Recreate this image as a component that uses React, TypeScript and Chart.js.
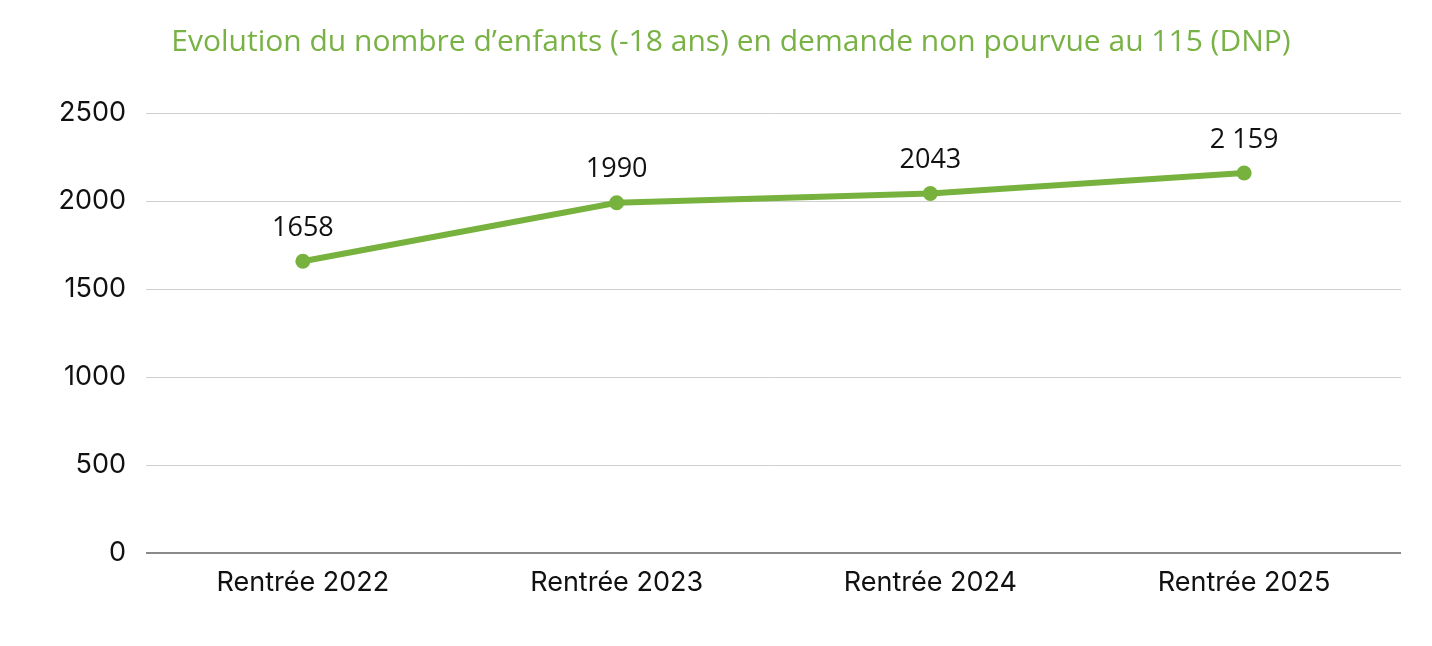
import React, { useEffect, useRef } from "react";
import { Chart, registerables } from "chart.js";

Chart.register(...registerables);

const TITLE = "Evolution du nombre d’enfants (-18 ans) en demande non pourvue au 115 (DNP)";
const categories = ["Rentrée 2022", "Rentrée 2023", "Rentrée 2024", "Rentrée 2025"];
const values = [1658, 1990, 2043, 2159];
const valueLabels = ["1658", "1990", "2043", "2 159"];
const yTicks = [0, 500, 1000, 1500, 2000, 2500];

const GREEN = "#77b23f";

const titlePlugin = {
  id: "customTitle",
  afterDraw(chart: any) {
    const ctx = chart.ctx;
    ctx.save();
    ctx.font = "30px 'Open Sans'";
    ctx.fillStyle = "#78b244";
    ctx.textAlign = "center";
    ctx.textBaseline = "middle";
    ctx.fillText(TITLE, 731, 42);
    ctx.restore();
  },
};

const dataLabelPlugin = {
  id: "dataLabels",
  afterDatasetsDraw(chart: any) {
    const ctx = chart.ctx;
    const meta = chart.getDatasetMeta(0);
    ctx.save();
    ctx.font = "27px 'Open Sans'";
    ctx.fillStyle = "#111111";
    ctx.textAlign = "center";
    ctx.textBaseline = "middle";
    meta.data.forEach((pt: any, i: number) => {
      ctx.fillText(valueLabels[i], pt.x, pt.y - 33);
    });
    ctx.restore();
  },
};

export default function App() {
  const ref = useRef<HTMLCanvasElement | null>(null);
  useEffect(() => {
    document.body.style.margin = "0";
    if (!ref.current) return;
    const chart = new Chart(ref.current, {
      type: "line",
      data: {
        labels: categories,
        datasets: [
          {
            data: values,
            borderColor: GREEN,
            backgroundColor: GREEN,
            borderWidth: 6,
            pointRadius: 7.5,
            pointHoverRadius: 7.5,
            pointBackgroundColor: GREEN,
            pointBorderColor: GREEN,
            pointBorderWidth: 0,
            tension: 0,
          },
        ],
      },
      options: {
        animation: false,
        responsive: false,
        devicePixelRatio: 1,
        layout: { padding: { left: 0, right: 31, top: 113, bottom: 0 } },
        plugins: {
          legend: { display: false },
          tooltip: { enabled: false },
          title: { display: false },
        },
        scales: {
          x: {
            offset: true,
            grid: { display: false, drawTicks: false },
            border: { display: false },
            ticks: {
              color: "#111111",
              font: { family: "Inter", size: 27 },
              padding: 14,
            },
            afterFit(scale: any) {
              scale.height = 93;
            },
          },
          y: {
            min: 0,
            max: 2500,
            afterBuildTicks(scale: any) {
              scale.ticks = yTicks.map((v) => ({ value: v }));
            },
            grid: {
              drawTicks: false,
              color: (c: any) => (c.tick && c.tick.value === 0 ? "#8a8a8a" : "#cfcfcf"),
              lineWidth: (c: any) => (c.tick && c.tick.value === 0 ? 2 : 1),
            },
            border: { display: false },
            ticks: {
              color: "#111111",
              font: { family: "Inter", size: 27 },
              padding: 20,
              callback: (v: any) => String(v),
            },
            afterFit(scale: any) {
              scale.width = 146;
            },
          },
        },
      },
      plugins: [dataLabelPlugin, titlePlugin],
    });
    return () => chart.destroy();
  }, []);
  return (
    <div style={{ width: 1432, height: 646, background: "#ffffff" }}>
      <canvas ref={ref} width={1432} height={646} style={{ display: "block" }} />
    </div>
  );
}
